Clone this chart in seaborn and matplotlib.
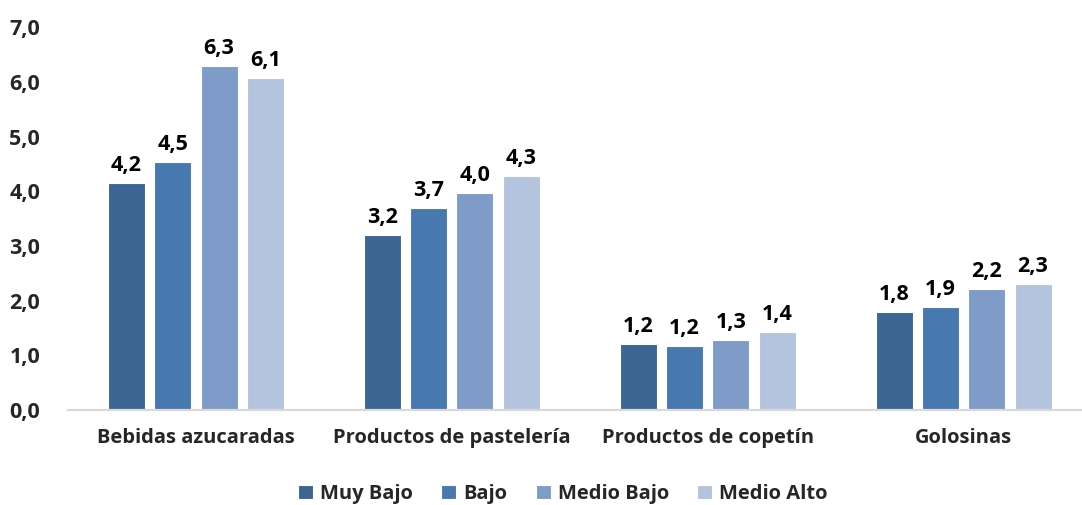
import matplotlib
matplotlib.use("Agg")
import matplotlib.pyplot as plt
import seaborn as sns
import pandas as pd

categories = ["Bebidas azucaradas", "Productos de pastelería",
              "Productos de copetín", "Golosinas"]
levels = ["Muy Bajo", "Bajo", "Medio Bajo", "Medio Alto"]
muy_bajo = [4.16, 3.21, 1.21, 1.79]
bajo = [4.54, 3.70, 1.18, 1.88]
medio_bajo = [6.30, 3.98, 1.29, 2.21]
medio_alto = [6.08, 4.28, 1.42, 2.30]
y_ticks = [0, 1, 2, 3, 4, 5, 6, 7]

colors = ["#3D6594", "#4878B0", "#7F9CC8", "#B4C4DF"]

rows = []
for lvl, vals in zip(levels, [muy_bajo, bajo, medio_bajo, medio_alto]):
    for cat, v in zip(categories, vals):
        rows.append({"Categoria": cat, "Nivel": lvl, "Valor": v})
df = pd.DataFrame(rows)

sns.set_style("white")
FAMILY = ["Open Sans", "DejaVu Sans"]
plt.rcParams["font.family"] = FAMILY
plt.rcParams["font.weight"] = "bold"
FS = 14.5
NUM_FS = 15.5

W, H = 1082, 505
fig = plt.figure(figsize=(W / 100, H / 100), dpi=100)
ax = fig.add_axes([68 / W, (H - 410) / H, (W - 68) / W, (410 - 27.5) / H])

sns.barplot(data=df, x="Categoria", y="Valor", hue="Nivel",
            order=categories, hue_order=levels, palette=colors,
            saturation=1, width=0.724, gap=0.2, edgecolor="white",
            linewidth=0.8, errorbar=None, ax=ax)

ax.set_xlim(-0.5, (W - 195.5) / 256)
ax.set_ylim(0, 7)
ax.set_yticks(y_ticks)
ax.set_yticklabels([f"{t:.1f}".replace(".", ",") for t in y_ticks],
                   fontsize=NUM_FS, fontweight="bold", family=FAMILY)
ax.set_xticks(range(len(categories)))
ax.set_xticklabels(categories, fontsize=FS, fontweight="bold", family=FAMILY)
ax.tick_params(axis="y", length=0, pad=20)
ax.tick_params(axis="x", length=0, pad=13)
ax.set_xlabel("")
ax.set_ylabel("")

for side in ["left", "right", "top"]:
    ax.spines[side].set_visible(False)
ax.spines["bottom"].set_color("#D9D9D9")
ax.spines["bottom"].set_linewidth(1.6)

for cont in ax.containers:
    labels = [f"{b.get_height():.1f}".replace(".", ",") for b in cont]
    ax.bar_label(cont, labels=labels, padding=5, fontsize=NUM_FS,
                 fontweight="bold", family=FAMILY, color="black")

ax.legend(loc="center", bbox_to_anchor=(563 / W, 11 / H),
          bbox_transform=fig.transFigure, ncol=4, frameon=False,
          handlelength=0.75, handleheight=0.75, handletextpad=0.35,
          columnspacing=1.4, prop={"weight": "bold", "size": FS,
                                   "family": FAMILY})

fig.savefig("out.png", dpi=100)
